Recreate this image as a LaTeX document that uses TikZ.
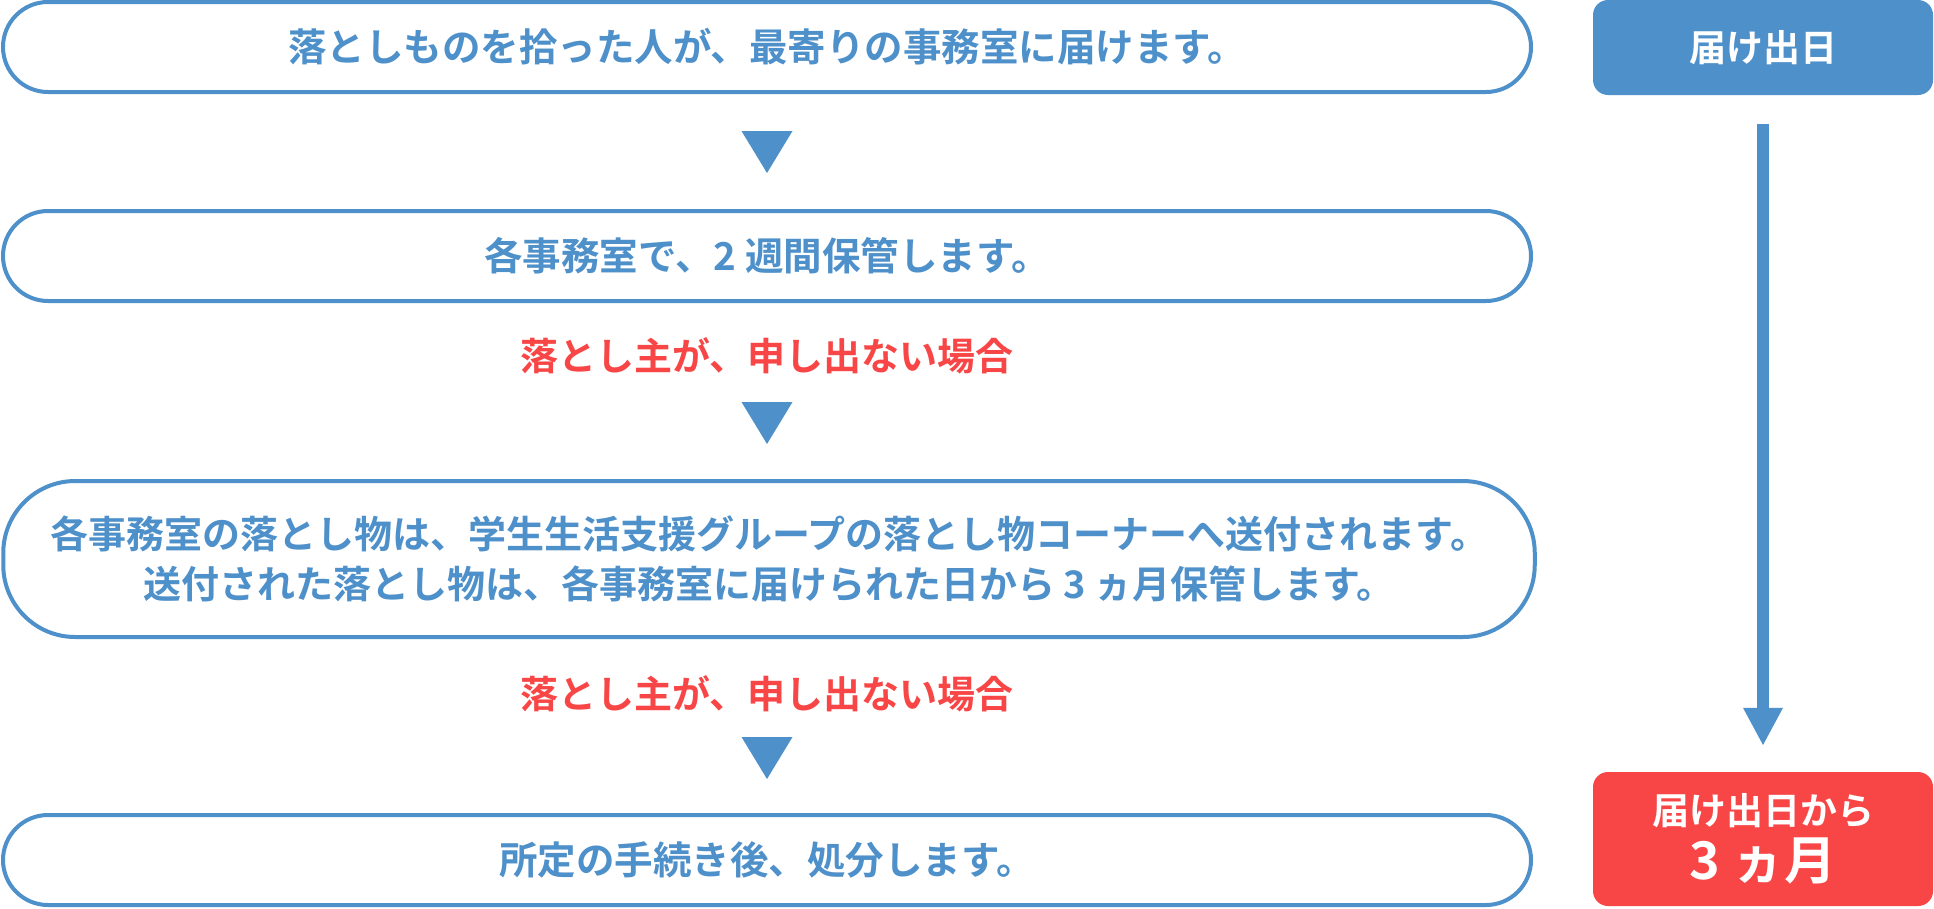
\documentclass[tikz,border=0pt]{standalone}
\usepackage{fontspec}
\setmainfont{Noto Sans CJK JP}[BoldFont=* Bold]
\usetikzlibrary{arrows.meta,calc}
\definecolor{fblue}{HTML}{4E90CA}
\definecolor{fred}{HTML}{F84646}
\begin{document}
\begin{tikzpicture}[x=1pt,y=1pt,
  stepbox/.style={draw=fblue, line width=4pt, fill=white, rounded corners=45pt,
    minimum width=1528pt, minimum height=90pt, inner sep=0pt, text=fblue,
    font=\fontsize{38.5}{52}\selectfont\bfseries, align=center},
  redlabel/.style={text=fred, font=\fontsize{38}{50}\selectfont\bfseries, inner sep=0pt},
  sidebox/.style={rounded corners=15pt, minimum width=340pt, inner sep=0pt, text=white,
    font=\fontsize{37}{50}\selectfont\bfseries, align=center},
  tri/.style={fill=fblue}
]
\useasboundingbox (0,0) rectangle (1934,-908);
\node[stepbox] (b1) at (767,-47) {落としものを拾った人が、最寄りの事務室に届けます。};
\node[stepbox] (b2) at (767,-256) {各事務室で、2 週間保管します。};
\node[stepbox, minimum width=1531.5pt, minimum height=156pt, rounded corners=72pt,
  font=\fontsize{38}{49}\selectfont\bfseries] (b3) at (769,-559)
  {各事務室の落とし物は、学生生活支援グループの落とし物コーナーへ送付されます。\\[1pt]
   送付された落とし物は、各事務室に届けられた日から 3 ヵ月保管します。};
\node[stepbox] (b4) at (767,-860) {所定の手続き後、処分します。};
\node[redlabel] (r1) at (767,-356) {落とし主が、申し出ない場合};
\node[redlabel] (r2) at (767,-694) {落とし主が、申し出ない場合};
\coordinate (t1) at (767,-131);
\coordinate (t2) at (767,-402);
\coordinate (t3) at (767,-737);
\foreach \t in {t1,t2,t3}{
  \fill[tri] (\t) ++(-25.5,0) -- ++(51,0) -- ++(-25.5,-42) -- cycle;
}
\node[sidebox, fill=fblue, minimum height=95pt] (s1) at (1763,-47.5) {届け出日};
\node[sidebox, fill=fred, minimum height=134pt] (s2) at (1763,-839)
  {届け出日から\\[5pt]{\fontsize{52}{56}\selectfont 3 ヵ月}};
\draw[fblue, line width=12pt, -{Triangle[width=37pt,length=38pt]}]
  ([yshift=-29pt]s1.south) -- ([yshift=26pt]s2.north);
\end{tikzpicture}
\end{document}
